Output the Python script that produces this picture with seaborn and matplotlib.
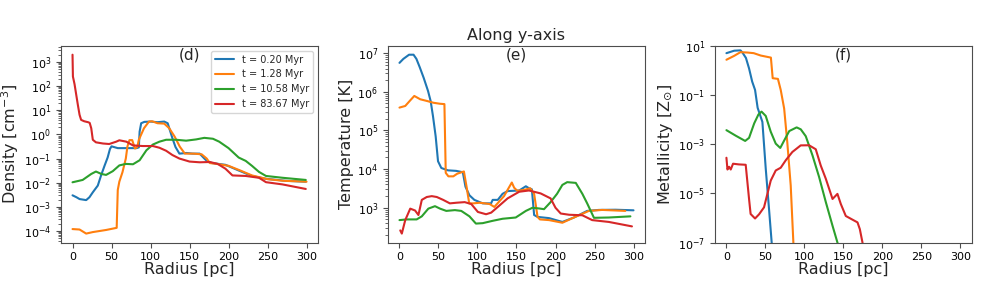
import matplotlib
matplotlib.use("Agg")
import matplotlib.pyplot as plt
import seaborn as sns

# series labels and colours
labels = ['t = 0.20 Myr', 't = 1.28 Myr', 't = 10.58 Myr', 't = 83.67 Myr']
colors = ['#1f77b4', '#ff7f0e', '#2ca02c', '#d62728']

# ---- panel (d): density [cm^-3] ----
r_den_b = [0, 5, 9, 17.5, 21.7, 26, 32.4, 36.6, 41, 45, 48, 50, 58, 67, 77.5, 82, 85, 86, 88, 92,
           100, 109, 117.5, 122, 128, 132, 137, 146, 154, 163, 169, 173, 179, 196, 213, 230, 248, 273, 299]
den_b = [0.003, 0.0025, 0.0021, 0.0019, 0.0025, 0.004, 0.0076, 0.02, 0.05, 0.11, 0.25, 0.32, 0.27, 0.27,
         0.27, 0.27, 0.29, 1.3, 2.9, 3.3, 3.4, 3.2, 3.4, 2.9, 0.7, 0.3, 0.16, 0.17, 0.16, 0.16, 0.1, 0.075,
         0.065, 0.055, 0.032, 0.019, 0.0145, 0.012, 0.011]

r_den_o = [0, 9, 17.5, 26, 43, 56.6, 58, 60, 64, 68.3, 70.4, 73, 76.5, 80, 83, 85, 91.6, 98, 102, 109,
           117.5, 124, 131, 137.5, 144, 155, 165.5, 172, 176, 185, 200, 215, 230, 250, 270, 300]
den_o = [1.2e-4, 1.15e-4, 7.8e-5, 9e-5, 1.1e-4, 1.35e-4, 0.005, 0.011, 0.027, 0.1, 0.32, 0.58, 0.58, 0.26,
         0.3, 0.6, 1.8, 3.4, 3.5, 2.9, 2.8, 1.8, 0.8, 0.31, 0.16, 0.16, 0.15, 0.1, 0.065, 0.06, 0.05,
         0.032, 0.02, 0.014, 0.012, 0.011]

r_den_g = [0, 13, 24, 30, 37, 43, 51.6, 60, 68.3, 77.5, 86, 94.7, 103, 111.4, 120, 133, 145.6, 158.4,
           169, 180, 188, 200, 213, 222, 230, 239, 248, 269, 299]
den_g = [0.0104, 0.013, 0.023, 0.029, 0.023, 0.021, 0.03, 0.052, 0.06, 0.058, 0.085, 0.22, 0.38, 0.5,
         0.6, 0.6, 0.55, 0.62, 0.72, 0.66, 0.5, 0.27, 0.11, 0.08, 0.05, 0.028, 0.019, 0.016, 0.013]

r_den_r = [0, 0.5, 2.6, 4.7, 6.8, 9, 11, 15, 20, 22, 24, 26, 30, 39, 47, 56, 60, 69, 77.5, 90, 103,
           111.4, 120, 128, 137, 150, 163, 176, 186, 196, 205, 222, 239, 248, 269, 299]
den_r = [2000, 250, 120, 45, 17, 6.5, 4, 3.5, 3.2, 3, 1.8, 0.6, 0.47, 0.42, 0.4, 0.5, 0.57, 0.5, 0.35,
         0.33, 0.33, 0.28, 0.21, 0.14, 0.1, 0.075, 0.07, 0.072, 0.06, 0.038, 0.02, 0.019, 0.016, 0.0105,
         0.0085, 0.0055]

# ---- panel (e): temperature [K] ----
r_tem_b = [0, 5, 12.3, 18, 21.7, 26, 31, 36.6, 40, 43, 46.4, 49.4, 53.6, 62, 72.7, 81.2, 84.6, 89.7, 96,
           106.7, 117.4, 119.5, 126, 132.2, 138.6, 153.5, 162, 166, 169.7, 172.6, 177, 191.7, 208.8,
           223.6, 240.6, 255.5, 276.8, 300]
tem_b = [5.6e6, 7.1e6, 9.1e6, 9.1e6, 7.1e6, 4.3e6, 2.3e6, 1.05e6, 5.7e5, 2.3e5, 7e4, 1.6e4, 1.07e4,
         9.3e3, 9e3, 8.3e3, 3.5e3, 2.1e3, 1.6e3, 1.3e3, 1.3e3, 1.6e3, 1.6e3, 2.3e3, 2.7e3, 2.8e3, 3.6e3,
         3.2e3, 3e3, 650, 580, 540, 430, 560, 830, 880, 890, 860]

r_tem_o = [0, 7.4, 13.8, 19, 26.6, 35, 43.6, 52, 57.6, 59.3, 62.7, 69, 74, 82.6, 86, 89.4, 94.5, 103,
           115.6, 121.6, 134, 144, 147, 151, 160, 167.5, 172.6, 177, 180, 191.7, 208.8, 223.6, 242.8,
           259.8, 289.5]
tem_o = [3.9e5, 4.3e5, 6e5, 7.8e5, 6.4e5, 5.8e5, 5.2e5, 4.9e5, 4.8e5, 8e3, 6.5e3, 6.5e3, 7.6e3, 8.7e3,
         3.5e3, 1.3e3, 1.3e3, 1.35e3, 1.25e3, 1.05e3, 2e3, 4.5e3, 3.3e3, 2.75e3, 2.9e3, 3.2e3, 2.3e3,
         580, 500, 480, 410, 560, 830, 880, 830]

r_tem_g = [0, 9.4, 22, 28.6, 37, 45.5, 52, 60, 71, 79.2, 89.7, 98, 106.7, 119.5, 132.2, 149, 162,
           170.4, 179, 185.3, 193.7, 202, 208.8, 215, 226, 234.4, 240.6, 249.3, 268.4, 296]
tem_g = [480, 500, 500, 600, 950, 1.1e3, 950, 830, 870, 830, 600, 390, 400, 460, 520, 560, 830, 1e3,
         960, 920, 1.4e3, 2.3e3, 3.9e3, 4.6e3, 4.4e3, 2.3e3, 1.3e3, 550, 560, 600]

r_tem_r = [1, 3, 7.4, 13.8, 20, 24.3, 28.6, 35, 41.4, 47.8, 56, 64.6, 73, 83.6, 92, 100.5, 111, 117.6,
           126, 138.6, 153.5, 166, 181, 193.7, 200, 206.7, 217.4, 234.4, 247, 268.4, 298]
tem_r = [260, 215, 480, 950, 850, 650, 1.6e3, 1.9e3, 2e3, 1.9e3, 1.6e3, 1.3e3, 1.35e3, 1.4e3, 1.25e3,
         780, 680, 750, 1.05e3, 1.75e3, 2.6e3, 2.8e3, 2.35e3, 1.75e3, 1e3, 710, 660, 640, 480, 430, 330]

# ---- panel (f): metallicity [Z_sun] ----
r_met_b = [0, 10, 18, 20.5, 25, 29, 33, 36.7, 40, 46.1, 50.4, 54.6, 58, 60]
met_b = [5.0, 6.3, 6.5, 5.3, 3.2, 1.2, 0.35, 0.16, 0.03, 8e-3, 1e-4, 2.3e-6, 1e-7, 2e-8]

r_met_o = [0, 10, 18, 27, 35, 44, 57, 59.3, 66, 69.6, 74, 78, 82.4, 85.8, 87]
met_o = [2.7, 3.9, 5.5, 5.3, 5.0, 4.0, 3.3, 0.48, 0.45, 0.16, 0.028, 1.2e-3, 2.1e-5, 1e-7, 2e-8]

r_met_g = [0, 12, 24, 29, 35.6, 41, 45, 50.4, 56.8, 63.2, 69, 74, 80.5, 90, 95.3, 101.7, 110.3, 118.8,
           127.4, 136, 142.3, 145]
met_g = [3.7e-3, 2.2e-3, 1.35e-3, 1.8e-3, 7e-3, 1.6e-2, 2.1e-2, 1.4e-2, 3.2e-3, 1.05e-3, 7e-4, 1.4e-3,
         3.4e-3, 4.8e-3, 4e-3, 2.1e-3, 3.5e-4, 4.6e-5, 4.4e-6, 4.8e-7, 1e-7, 3e-8]

r_met_r = [0, 1.3, 3.4, 5.5, 8.5, 16, 24.7, 29, 31, 36.7, 41.8, 48.2, 52.5, 56.8, 63.2, 69.6, 76, 84.5,
           95.2, 105.9, 114.5, 120.9, 127.4, 136, 142.3, 146.6, 153, 161.6, 168, 171, 174.4, 176]
met_r = [2.8e-4, 9.3e-5, 1.2e-4, 9.3e-5, 1.6e-4, 1.5e-4, 1.45e-4, 5.9e-6, 1.45e-6, 9.5e-7, 1.4e-6,
         2.7e-6, 9.5e-6, 3.3e-5, 8.5e-5, 1.1e-4, 2.2e-4, 4.8e-4, 8.9e-4, 9e-4, 6.2e-4, 1.35e-4, 3.9e-5,
         5.9e-6, 9.5e-6, 3.7e-6, 1.2e-6, 8.5e-7, 6.6e-7, 3.5e-7, 1e-7, 3e-8]

panels = [
    ([(r_den_b, den_b), (r_den_o, den_o), (r_den_g, den_g), (r_den_r, den_r)], r'Density [cm$^{-3}$]', '(d)'),
    ([(r_tem_b, tem_b), (r_tem_o, tem_o), (r_tem_g, tem_g), (r_tem_r, tem_r)], 'Temperature [K]', '(e)'),
    ([(r_met_b, met_b), (r_met_o, met_o), (r_met_g, met_g), (r_met_r, met_r)], r'Metallicity [Z$_{\odot}$]', '(f)'),
]

sns.set_style('ticks')
plt.rcParams['font.family'] = ['DejaVu Sans']
plt.rcParams['axes.edgecolor'] = '0.3'
plt.rcParams['xtick.color'] = '0.3'
plt.rcParams['ytick.color'] = '0.3'
plt.rcParams['xtick.labelcolor'] = 'black'
plt.rcParams['ytick.labelcolor'] = 'black'

fig, axes = plt.subplots(1, 3, figsize=(9.81, 2.86), dpi=100)
fig.subplots_adjust(left=0.062, right=0.991, bottom=0.152, top=0.84, wspace=0.27)

for i, (series, ylab, tag) in enumerate(panels):
    ax = axes[i]
    for (rr, vv), lab, col in zip(series, labels, colors):
        sns.lineplot(x=rr, y=vv, ax=ax, color=col, label=lab if i == 0 else None,
                     sort=False, estimator=None, linewidth=1.5)
    ax.set_yscale('log')
    ax.set_xlabel('Radius [pc]', fontsize=11.5, labelpad=0)
    ax.set_ylabel(ylab, fontsize=11.5, labelpad=2)
    ax.set_xticks([0, 50, 100, 150, 200, 250, 300])
    ax.tick_params(axis='both', labelsize=8, length=3.5, width=0.8)
    ax.tick_params(axis='y', which='minor', length=2, width=0.6)
    ax.text(0.5, 0.955, tag, transform=ax.transAxes, ha='center', va='center', fontsize=11)
    if i == 0:
        ax.legend(loc='upper right', fontsize=7, frameon=True)
    elif ax.get_legend() is not None:
        ax.get_legend().remove()

axes[2].set_xlim(-15, 315)
axes[2].set_ylim(1e-7, 10)
axes[1].set_title('Along y-axis', fontsize=11.5, pad=4)

fig.savefig('out.png', dpi=100)
